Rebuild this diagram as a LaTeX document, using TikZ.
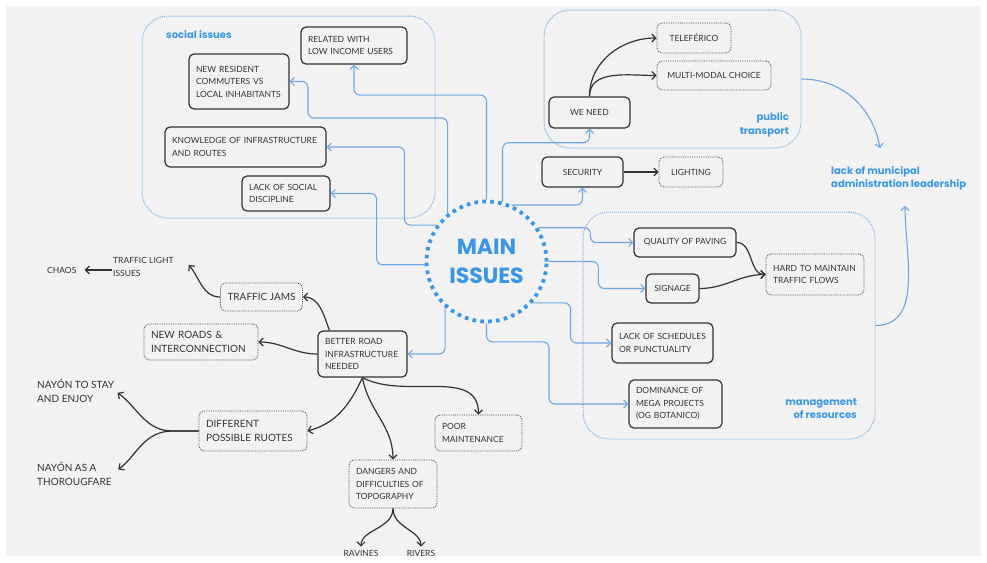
\documentclass[tikz,border=0pt]{standalone}
\usepackage{fontspec}
\setmainfont{Lato}
\newfontfamily\headfont{Poppins}
\usetikzlibrary{arrows.meta,positioning,calc}
\definecolor{paper}{HTML}{F2F2F2}
\definecolor{ink}{HTML}{333333}
\definecolor{linkblue}{HTML}{6EA6E6}
\definecolor{groupblue}{HTML}{7FB2EA}
\definecolor{headblue}{HTML}{3B97E6}
\tikzset{
  >={Straight Barb[length=4pt,width=8pt]},
  font=\fontsize{8.5}{12.5}\selectfont,
  group/.style={draw=groupblue, line width=1pt, densely dotted, rounded corners=26pt},
  grouptitle/.style={font=\headfont\bfseries\fontsize{10}{13.5}\selectfont, text=headblue, inner sep=0pt},
  hub/.style={circle, draw=headblue, line width=3.8pt, dash pattern=on 3.6pt off 4.3pt,
    minimum size=120pt, fill=paper, align=center, text=headblue,
    font=\headfont\bfseries\fontsize{22}{29}\selectfont},
  issue/.style={draw=ink, line width=1.2pt, rounded corners=5pt, fill=paper, text=ink,
    align=left, inner xsep=7pt, inner ysep=3pt},
  idea/.style={draw=ink!90, line width=0.8pt, densely dotted, rounded corners=5pt, fill=paper,
    text=ink, align=left, inner xsep=7pt, inner ysep=3pt},
  plain/.style={text=ink, align=left, inner sep=0pt},
  big/.style={font=\fontsize{10}{14}\selectfont},
  link/.style={->, draw=linkblue, line width=1.1pt, rounded corners=6pt},
  flow/.style={->, draw=ink, line width=1.2pt}
}

\begin{document}
\begin{tikzpicture}[x=1pt,y=1pt]
\useasboundingbox (0,0) rectangle (987,-562);
\fill[paper] (6,-6) rectangle (981,-556);

% groups
\node[group, minimum width=293pt, minimum height=202pt] (socgroup) at (288.5,-117) {};
\node[group, minimum width=257pt, minimum height=138pt] (ptgroup) at (672.5,-79) {};
\node[group, minimum width=292pt, minimum height=227pt] (resgroup) at (729,-325.5) {};
\node[grouptitle, anchor=west] (soctitle) at (166,-35) {social issues};
\node[grouptitle, anchor=east, align=right] (pttitle) at (789,-125) {public\\transport};
\node[grouptitle, anchor=east, align=right] (restitle) at (857,-408.5) {management\\of resources};
\node[grouptitle, anchor=west, align=left] (leader) at (831,-178.5) {lack of municipal\\administration leadership};
\coordinate (leadin) at ($(leader.north west)+(49,18)$);
\coordinate (leadout) at ($(leader.south west)+(74,-15)$);

% social issues
\node[issue, text width=92pt, minimum height=37pt] (related) at (354,-45.5) {RELATED WITH\\LOW INCOME USERS};
\node[issue, text width=86pt, minimum height=55pt] (newres) at (239,-81.5) {NEW RESIDENT\\COMMUTERS VS\\LOCAL INHABITANTS};
\node[issue, text width=147pt, minimum height=40pt] (knowledge) at (245.5,-147) {KNOWLEDGE OF INFRASTRUCTURE\\AND ROUTES};
\node[issue, text width=74pt, minimum height=35pt] (lacksoc) at (286,-193.5) {LACK OF SOCIAL\\DISCIPLINE};

% public transport and security
\node[issue, align=center, minimum width=81pt, minimum height=31pt] (weneed) at (589.5,-112.5) {WE NEED};
\node[idea, align=center, minimum width=74pt, minimum height=30pt] (teleferico) at (694,-38) {TELEFÉRICO};
\node[idea, align=center, minimum width=114pt, minimum height=29pt] (multimodal) at (714,-75.5) {MULTI-MODAL CHOICE};
\node[issue, align=center, minimum width=81pt, minimum height=30pt] (security) at (582.5,-172) {SECURITY};
\node[idea, align=center, minimum width=64pt, minimum height=30pt] (lighting) at (691,-172) {LIGHTING};
\draw[flow] (weneed.north) to[out=90,in=180] (teleferico.west);
\draw[flow] (weneed.north) to[out=90,in=180] (multimodal.west);
\draw[flow] (security) -- (lighting);

% management of resources
\node[issue, align=center, minimum width=102pt, minimum height=29pt] (paving) at (685,-242.5) {QUALITY OF PAVING};
\node[issue, align=center, minimum width=53pt, minimum height=29pt] (signage) at (672.5,-288.5) {SIGNAGE};
\node[idea, text width=84pt, minimum height=41pt] (hard) at (815,-274.5) {HARD TO MAINTAIN\\TRAFFIC FLOWS};
\node[issue, text width=87pt, minimum height=40pt] (schedules) at (662.5,-343) {LACK OF SCHEDULES\\OR PUNCTUALITY};
\node[issue, text width=79pt, minimum height=48pt] (dominance) at (675.5,-404) {DOMINANCE OF\\MEGA PROJECTS\\(OG BOTANICO)};
\draw[flow] (paving.east) to[out=0,in=180] (hard.west);
\draw[flow] (signage.east) to[out=0,in=180] (hard.west);

% road infrastructure
\node[issue, text width=75pt, minimum height=46pt] (betterroad) at (362.5,-354) {BETTER ROAD\\INFRASTRUCTURE\\NEEDED};
\node[idea, big, align=center, minimum width=81pt, minimum height=28pt] (trafficjams) at (261.5,-297) {TRAFFIC JAMS};
\node[idea, big, text width=100pt, minimum height=36pt] (newroads) at (201,-342) {NEW ROADS \&\\INTERCONNECTION};
\node[idea, big, text width=94pt, minimum height=40pt] (different) at (253,-431) {DIFFERENT\\POSSIBLE RUOTES};
\node[idea, text width=73pt, minimum height=36pt] (poor) at (478.5,-433) {POOR\\MAINTENANCE};
\node[idea, text width=74pt, minimum height=48pt] (dangers) at (393,-484) {DANGERS AND\\DIFFICULTIES OF\\TOPOGRAPHY};
\node[plain, anchor=west] (tlight) at (113,-267) {TRAFFIC LIGHT\\ISSUES};
\node[plain, anchor=west] (chaos) at (47,-270) {CHAOS};
\node[plain, big, anchor=west] (stay) at (37,-390.5) {NAYÓN TO STAY\\AND ENJOY};
\node[plain, big, anchor=west] (thoro) at (37,-474) {NAYÓN AS A\\THOROUGFARE};
\node[plain] (ravines) at (361,-553) {RAVINES};
\node[plain] (rivers) at (421,-553) {RIVERS};
\draw[flow] ([xshift=12pt]betterroad.north west) to[out=110,in=0] (trafficjams.east);
\draw[flow] (trafficjams.west) to[out=180,in=-50] ($(tlight.east)+(15,2)$);
\draw[flow, shorten >=8pt, shorten <=1pt] (tlight.west |- chaos) -- (chaos.east);
\draw[flow] (betterroad.west) to[out=180,in=0] (newroads.east);
\foreach \t/\o/\i in {different.east/-115/15,dangers.north/-80/90,poor.north/-28/90}
  \draw[flow] (betterroad.south) to[out=\o,in=\i] (\t);
\draw[flow, shorten >=4pt] (different.west) -- ++(-26,0) to[out=180,in=-35] (stay.east);
\draw[flow, shorten >=8pt] (different.west) -- ++(-26,0) to[out=180,in=35] (thoro.east);
\draw[flow, shorten >=3pt] (dangers.south) to[out=-90,in=90] (ravines.north);
\draw[flow, shorten >=3pt] (dangers.south) to[out=-90,in=90] (rivers.north);

% main issues and its links
\node[hub] (main) at (486.5,-261.5) {MAIN\\ISSUES};
\draw[link] (main.north) -- ++(0,104.5) -| (related.south);
\draw[link] (main.129) |- (308,-118) |- (newres.east);
\draw[link] (main.144) -- ++(-32,0) |- (knowledge.east);
\draw[link] (main.183) -- ++(-48,0) |- (lacksoc.east);
\draw[link] (main.75) -- ++(0,59) -| (weneed.south);
\draw[link] (main.66) -| (security.south);
\draw[link] (main.33) -- ++(52,0) |- (paving.west);
\draw[link] (main.east) -- ++(50,0) |- (signage.west);
\draw[link] (main.-42) -- ++(38,0) |- (schedules.west);
\draw[link] (main.south) -- ++(0,-18.5) -- ++(62.5,0) |- (dominance.west);
\draw[link] (main.228) |- (betterroad.east);
\draw[link] (ptgroup.east) to[out=0,in=100] (leadin);
\draw[link] (resgroup.east) to[out=0,in=-90] (leadout);
\end{tikzpicture}
\end{document}
